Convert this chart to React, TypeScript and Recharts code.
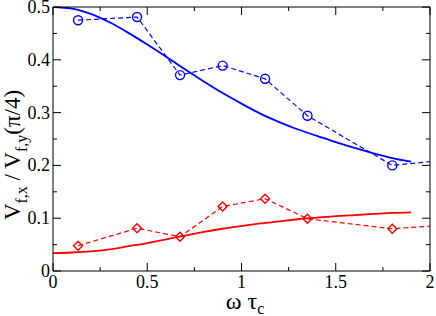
import { LineChart, Line, XAxis, YAxis } from "recharts";

// simulation points (dashed with markers)
const simX = [0.133, 0.446, 0.674, 0.9, 1.125, 1.35, 1.8, 2.25];
const simBlue = [0.475, 0.481, 0.371, 0.389, 0.364, 0.294, 0.2, 0.216];
const simRed = [0.048, 0.081, 0.065, 0.122, 0.137, 0.099, 0.08, 0.091];

// theory curves (solid)
const theoryX = [0, 0.1, 0.2, 0.3, 0.4, 0.5, 0.6, 0.7, 0.8, 0.9, 1.0, 1.1, 1.2, 1.3, 1.4, 1.5, 1.6, 1.7, 1.8, 1.9];
const theoryBlue = [0.5, 0.497, 0.487, 0.471, 0.451, 0.429, 0.406, 0.382, 0.359, 0.337, 0.317, 0.298, 0.282, 0.268, 0.256, 0.244, 0.233, 0.223, 0.214, 0.207];
const theoryRed = [0.034, 0.035, 0.037, 0.041, 0.047, 0.053, 0.06, 0.067, 0.074, 0.08, 0.085, 0.09, 0.094, 0.098, 0.101, 0.104, 0.106, 0.108, 0.11, 0.111];

const xTicks = [0, 0.25, 0.5, 0.75, 1, 1.25, 1.5, 1.75, 2];
const yTicks = [0, 0.05, 0.1, 0.15, 0.2, 0.25, 0.3, 0.35, 0.4, 0.45, 0.5];

const simData = simX.map((x, i) => ({ x, blue: simBlue[i], red: simRed[i] }));
const theoryData = theoryX.map((x, i) => ({ x, blue: theoryBlue[i], red: theoryRed[i] }));

const FAMILY = "Liberation Serif";
const SERIF = { fontFamily: '"Liberation Serif"' };
const BLUE = "#0000ff";
const RED = "#ff0000";

const isMajor = (v: number, step: number) => Math.abs(v / step - Math.round(v / step)) < 1e-6;
const fmt = (v: number) => (v === 0 ? "0" : String(Math.round(v * 10) / 10));

// ticks point inward, like the original xmgrace plot
const BottomTick = ({ x, y, payload }: any) => {
  const major = isMajor(payload.value, 0.5);
  return (
    <g>
      <line x1={x} x2={x} y1={y} y2={y - (major ? 8 : 4)} stroke="#000" />
      {major && (
        <text x={x} y={y + 17} textAnchor="middle" fontSize={18} fontFamily={FAMILY} style={SERIF} fill="#000">
          {fmt(payload.value)}
        </text>
      )}
    </g>
  );
};

const TopTick = ({ x, y, payload }: any) => {
  const major = isMajor(payload.value, 0.5);
  return <line x1={x} x2={x} y1={y} y2={y + (major ? 8 : 4)} stroke="#000" />;
};

const LeftTick = ({ x, y, payload }: any) => {
  const major = isMajor(payload.value, 0.1);
  return (
    <g>
      <line x1={x} x2={x + (major ? 8 : 4)} y1={y} y2={y} stroke="#000" />
      {major && (
        <text x={x - 3} y={y + 6} textAnchor="end" fontSize={18} fontFamily={FAMILY} style={SERIF} fill="#000">
          {fmt(payload.value)}
        </text>
      )}
    </g>
  );
};

const RightTick = ({ x, y, payload }: any) => {
  const major = isMajor(payload.value, 0.1);
  return <line x1={x} x2={x - (major ? 8 : 4)} y1={y} y2={y} stroke="#000" />;
};

const Diamond = ({ cx, cy, index }: any) => (
  <path
    key={`d-${index}`}
    d={`M${cx},${cy - 4.5} L${cx + 4.5},${cy} L${cx},${cy + 4.5} L${cx - 4.5},${cy} Z`}
    fill="none"
    stroke={RED}
    strokeWidth={1.4}
  />
);

const XTitle = () => (
  <text x={245} y={309} textAnchor="middle" fontSize={24} fontFamily={FAMILY} style={SERIF} fill="#000">
    ω τ<tspan fontSize={16} dy={5}>c</tspan>
  </text>
);

const YTitle = () => (
  <text
    x={20}
    y={155}
    transform="rotate(-90, 20, 155)"
    textAnchor="middle"
    fontSize={23}
    fontFamily={FAMILY}
    style={SERIF}
    fill="#000"
  >
    V<tspan fontSize={16} dy={7}>f,x</tspan>
    <tspan dy={-7}> / V</tspan>
    <tspan fontSize={16} dy={7}>f,y</tspan>
    <tspan dy={-7}>(π/4)</tspan>
  </text>
);

export default function App() {
  return (
    <div style={{ position: "absolute", left: 0, top: 0, fontFamily: '"Liberation Serif"' }}>
      <LineChart
        width={436}
        height={316}
        margin={{ top: 6, right: 5, bottom: 44, left: 52 }}
        style={{ fontFamily: '"Liberation Serif"' }}
      >
        <XAxis
          dataKey="x"
          type="number"
          domain={[0, 2]}
          allowDataOverflow
          ticks={xTicks}
          interval={0}
          height={1}
          tickSize={0}
          tickMargin={0}
          tickLine={false}
          tick={<BottomTick />}
          axisLine={{ stroke: "#000" }}
          label={{ content: () => <XTitle /> }}
        />
        <XAxis
          xAxisId="top"
          orientation="top"
          dataKey="x"
          type="number"
          domain={[0, 2]}
          allowDataOverflow
          ticks={xTicks}
          interval={0}
          height={1}
          tickSize={0}
          tickMargin={0}
          tickLine={false}
          tick={<TopTick />}
          axisLine={{ stroke: "#000" }}
        />
        <YAxis
          type="number"
          domain={[0, 0.5]}
          allowDataOverflow
          ticks={yTicks}
          interval={0}
          width={1}
          tickSize={0}
          tickMargin={0}
          tickLine={false}
          tick={<LeftTick />}
          axisLine={{ stroke: "#000" }}
          label={{ content: () => <YTitle /> }}
        />
        <YAxis
          yAxisId="right"
          orientation="right"
          type="number"
          domain={[0, 0.5]}
          allowDataOverflow
          ticks={yTicks}
          interval={0}
          width={1}
          tickSize={0}
          tickMargin={0}
          tickLine={false}
          tick={<RightTick />}
          axisLine={{ stroke: "#000" }}
        />
        <Line
          data={theoryData}
          dataKey="blue"
          type="monotone"
          stroke={BLUE}
          strokeWidth={1.8}
          dot={false}
          isAnimationActive={false}
        />
        <Line
          data={theoryData}
          dataKey="red"
          type="monotone"
          stroke={RED}
          strokeWidth={1.8}
          dot={false}
          isAnimationActive={false}
        />
        <Line
          data={simData}
          dataKey="blue"
          type="linear"
          stroke={BLUE}
          strokeWidth={1.2}
          strokeDasharray="5 3"
          dot={{ r: 4.5, stroke: BLUE, strokeWidth: 1.4, fill: "none", strokeDasharray: "" }}
          isAnimationActive={false}
        />
        <Line
          data={simData}
          dataKey="red"
          type="linear"
          stroke={RED}
          strokeWidth={1.2}
          strokeDasharray="5 3"
          dot={<Diamond />}
          isAnimationActive={false}
        />
      </LineChart>
    </div>
  );
}
